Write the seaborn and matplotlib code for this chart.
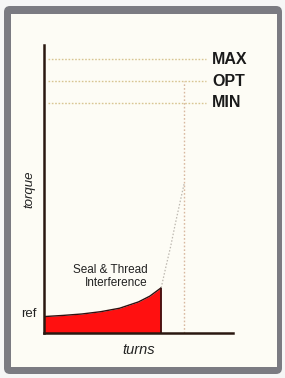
import numpy as np
import pandas as pd
import matplotlib
matplotlib.use("Agg")
import matplotlib.pyplot as plt
from matplotlib.patches import FancyBboxPatch, Rectangle
import seaborn as sns

sns.set_theme(style="white")
plt.rcParams["font.family"] = ["Liberation Sans", "DejaVu Sans"]

# torque levels (arbitrary units, axis 0..10)
LEVEL_NAMES = ["MAX", "OPT", "MIN"]
LEVEL_VALUES = [9.5, 8.75, 8.0]

# seal & thread interference part of the curve (turns, torque)
interf_turns = [0.0, 1.0, 2.0, 3.0, 4.0, 5.0, 5.6, 6.2]
interf_torque = [0.57, 0.61, 0.66, 0.74, 0.86, 1.08, 1.28, 1.57]

# shoulder make-up part (dotted)
shoulder_turns = [6.2, 6.45, 6.7, 6.95, 7.15, 7.42]
shoulder_torque = [1.57, 2.3, 3.0, 3.8, 4.4, 5.2]

final_turns = 7.42
ref_torque = 0.6

interf = pd.DataFrame({"turns": interf_turns, "torque": interf_torque})
shoulder = pd.DataFrame({"turns": shoulder_turns, "torque": shoulder_torque})

W, H = 285, 378
fig = plt.figure(figsize=(W / 100, H / 100), dpi=100)
fig.patch.set_facecolor("#f6f6f6")

# frame behind the chart
bg = fig.add_axes([0, 0, 1, 1])
bg.set_xlim(0, W)
bg.set_ylim(H, 0)
bg.axis("off")
bg.add_patch(FancyBboxPatch((4, 6), 278, 368, boxstyle="round,pad=0,rounding_size=6",
                            facecolor="#7b7b82", edgecolor="none"))
bg.add_patch(Rectangle((11, 14), 266, 353, facecolor="#fdfcf5", edgecolor="none"))

ax = fig.add_axes([44 / W, 1 - 333 / H, 189 / W, 288 / H])
ax.set_facecolor("none")
ax.set_xlim(0, 10)
ax.set_ylim(0, 10)

# dotted level lines
dot_col = "#d8c592"
for name, val in zip(LEVEL_NAMES, LEVEL_VALUES):
    ax.plot([0.2, 8.55], [val, val], color=dot_col, lw=1.0, ls=(0, (1.2, 1.2)))
    ax.text(8.9, val, name, ha="left", va="center", fontsize=11.5,
            color="#1a1a1a", fontweight="bold")

# final turns vertical dotted line
ax.plot([final_turns, final_turns], [0, LEVEL_VALUES[1]], color="#d9b9a0",
        lw=1.0, ls=(0, (1.2, 1.5)))

# interference area
ax.fill_between(interf["turns"], 0, interf["torque"], color="#ff1010", lw=0)
sns.lineplot(data=interf, x="turns", y="torque", ax=ax, color="#301010", lw=1.0)
ax.plot([interf_turns[-1]] * 2, [0, interf_torque[-1]], color="#301010", lw=1.2)

sns.lineplot(data=shoulder, x="turns", y="torque", ax=ax, color="#bdb8b0",
             lw=0.9, linestyle=(0, (1.2, 1.5)))

ax.text(3.5, 2.2, "Seal & Thread", ha="center", va="center", fontsize=8.5,
        color="#222222")
ax.text(3.8, 1.74, "Interference", ha="center", va="center", fontsize=8.5,
        color="#222222")

ax.text(-0.4, ref_torque + 0.05, "ref", ha="right", va="center", fontsize=9.5,
        color="#222222")

for side in ["top", "right"]:
    ax.spines[side].set_visible(False)
for side in ["left", "bottom"]:
    ax.spines[side].set_color("#2a1810")
    ax.spines[side].set_linewidth(1.8)
ax.set_xticks([])
ax.set_yticks([])
ax.set_xlabel("turns", fontsize=10.5, fontstyle="italic", color="#222222", labelpad=7)
ax.set_ylabel("torque", fontsize=9.5, fontstyle="italic", color="#222222", labelpad=6)

fig.savefig("out.png", dpi=100, facecolor=fig.get_facecolor())
